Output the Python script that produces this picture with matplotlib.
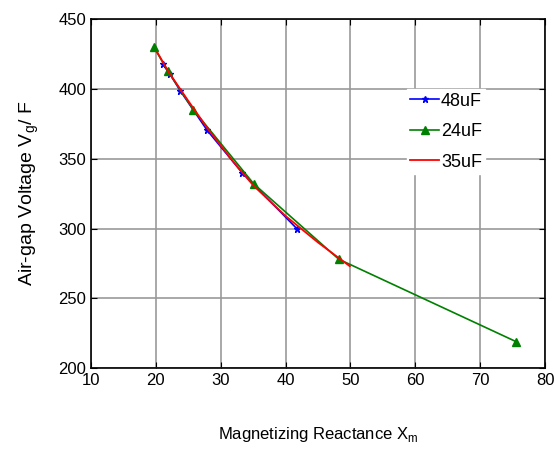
import matplotlib
matplotlib.use('Agg')
import matplotlib.pyplot as plt

# Air-gap voltage vs magnetizing reactance, three capacitances

xm_48 = [21.1, 22.2, 23.8, 27.9, 33.3, 41.8]
vg_48 = [417.5, 410.5, 398.5, 370.5, 340.0, 299.6]

xm_24 = [19.7, 21.9, 25.8, 35.1, 48.2, 75.5]
vg_24 = [430.0, 412.5, 385.0, 332.0, 278.0, 219.0]

xm_35 = [20.2, 22.0, 25.0, 28.0, 32.0, 35.0, 40.0, 45.0, 49.9]
vg_35 = [426.5, 412.0, 391.5, 371.5, 347.5, 331.0, 309.0, 290.0, 273.0]

font = 'Liberation Sans'

fig = plt.figure(figsize=(5.54, 4.55), dpi=100)
ax = fig.add_axes([0.164, 0.191, 0.82, 0.767])

ax.plot(xm_48, vg_48, color='blue', marker='*', markersize=5, lw=1.2, label='48uF')
ax.plot(xm_24, vg_24, color='green', marker='^', markersize=6, lw=1.2, label='24uF')
ax.plot(xm_35, vg_35, color='red', lw=1.3, label='35uF')

ax.set_xlim(10, 80)
ax.set_ylim(200, 450)
ax.set_xticks(range(10, 81, 10))
ax.set_yticks(range(200, 451, 50))
ax.grid(True, color='#999999', lw=1.2)
ax.set_axisbelow(True)
ax.tick_params(direction='in', top=True, right=True, length=4, labelsize=12)
for lab in ax.get_xticklabels() + ax.get_yticklabels():
    lab.set_fontfamily(font)
for s in ax.spines.values():
    s.set_linewidth(1.2)

ax.set_xlabel('Magnetizing Reactance X$_{\\mathregular{m}}$', fontsize=12,
              fontfamily=font, labelpad=27)
ax.set_ylabel('Air-gap Voltage V$_{\\mathregular{g}}$/ F', fontsize=14,
              fontfamily=font, labelpad=12)

leg = ax.legend(loc='upper left', bbox_to_anchor=(0.695, 0.80), frameon=True,
                edgecolor='white', framealpha=1, fancybox=False,
                prop={'family': font, 'size': 13}, handlelength=1.6,
                handletextpad=0.1, labelspacing=0.75, borderpad=0.2,
                borderaxespad=0)

fig.savefig('out.png', dpi=100)
